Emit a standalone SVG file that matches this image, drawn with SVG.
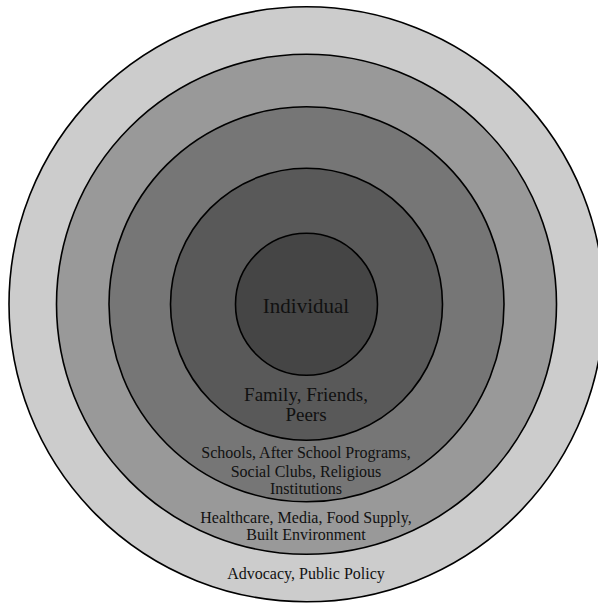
<svg xmlns="http://www.w3.org/2000/svg" width="598" height="603" viewBox="0 0 598 603">
<style>
.ring{stroke:#000;stroke-width:1.6}
text{font-family:"Liberation Serif","Times New Roman",serif;fill:#111;text-anchor:middle}
.t16{font-size:16px}
.t19{font-size:19px}
.t21{font-size:21px}
</style>
<rect width="598" height="603" fill="#fff"/>
<g id="ring-policy">
<circle class="ring" cx="306.5" cy="304.3" r="297.5" fill="#cccccc"/>
<text class="t16" x="306" y="579.3">Advocacy, Public Policy</text>
</g>
<g id="ring-community">
<circle class="ring" cx="306.5" cy="304.3" r="250" fill="#999999"/>
<text class="t16" x="306" y="523.3">Healthcare, Media, Food Supply,</text>
<text class="t16" x="306" y="540.3">Built Environment</text>
</g>
<g id="ring-organizational">
<circle class="ring" cx="306.5" cy="304.3" r="197.5" fill="#767676"/>
<text class="t16" x="306" y="457.7">Schools, After School Programs,</text>
<text class="t16" x="306" y="476.5">Social Clubs, Religious</text>
<text class="t16" x="306" y="493.5">Institutions</text>
</g>
<g id="ring-interpersonal">
<circle class="ring" cx="306.5" cy="304.3" r="136" fill="#595959"/>
<text class="t19" x="306" y="400.7">Family, Friends,</text>
<text class="t19" x="306" y="421">Peers</text>
</g>
<g id="ring-individual">
<circle class="ring" cx="306.5" cy="304.3" r="71" fill="#454545"/>
<text class="t21" x="306" y="312.7">Individual</text>
</g>
<g id="connectors"></g>
</svg>
